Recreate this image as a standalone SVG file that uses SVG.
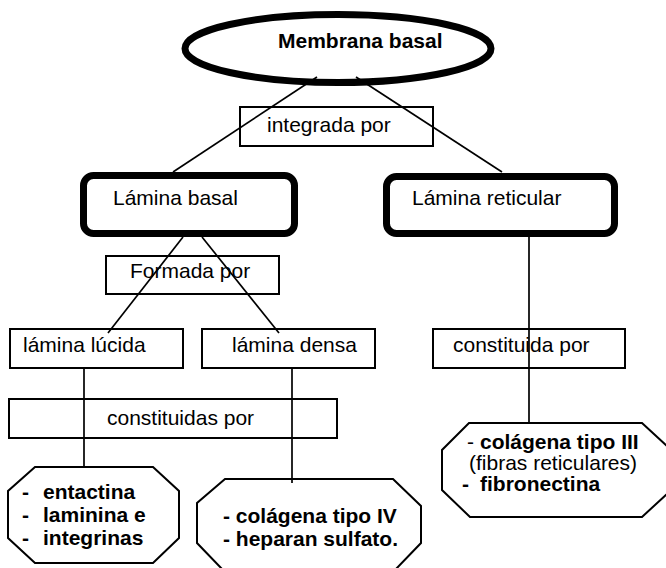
<svg xmlns="http://www.w3.org/2000/svg" width="666" height="568" viewBox="0 0 666 568">
<style>
text{font-family:"Liberation Sans",Arial,sans-serif;font-size:21px;fill:#000}
.b{font-weight:bold}
.box{fill:#fff;stroke:#000;stroke-width:2}
.thick{fill:#fff;stroke:#000;stroke-width:7}
.oct{fill:#fff;stroke:#000;stroke-width:2;stroke-linejoin:miter}
.con line{stroke:#000;stroke-width:1.7}
</style>
<rect width="666" height="568" fill="#fff"/>
<g id="nodes-back">
<g id="membrana"><ellipse class="thick" cx="338" cy="48.5" rx="153" ry="34"/><text class="b" x="278" y="48">Membrana basal</text></g>
<g id="lamina-basal"><rect class="thick" x="83.5" y="175.5" width="211" height="58" rx="10"/><text x="113" y="205">Lámina basal</text></g>
<g id="lamina-reticular"><rect class="thick" x="386.5" y="176.5" width="228" height="57" rx="10"/><text x="412" y="205">Lámina reticular</text></g>
<g id="lucida"><rect class="box" x="10" y="329" width="173" height="39"/><text x="23" y="352">lámina lúcida</text></g>
<g id="densa"><rect class="box" x="202" y="329" width="173" height="39"/><text x="232" y="352">lámina densa</text></g>
<g id="oct-lucida"><polygon class="oct" points="35,467 153,467 179,491 179,538 153,563 35,563 8,538 8,491"/>
<text class="b" x="22" y="499">-</text><text class="b" x="43" y="499">entactina</text>
<text class="b" x="22" y="522">-</text><text class="b" x="43" y="522">laminina e</text>
<text class="b" x="22" y="545">-</text><text class="b" x="43" y="545">integrinas</text></g>
<g id="oct-densa"><polygon class="oct" points="225,479 393,479 421,506 421,543 395,570 223,570 197,543 197,503"/>
<text class="b" x="223" y="523">- colágena tipo IV</text>
<text class="b" x="223" y="546">- heparan sulfato.</text></g>
<g id="oct-reticular"><polygon class="oct" points="469,423 642,423 669,448 669,492 642,517 470,517 442,490 442,450"/>
<text x="467" y="449">- <tspan class="b" x="480">colágena tipo III</tspan></text>
<text x="469" y="470">(fibras reticulares)</text>
<text class="b" x="462" y="491">-</text><text class="b" x="480" y="491">fibronectina</text></g>
</g>
<g id="connectors" class="con">
<line x1="317" y1="77" x2="173" y2="172"/>
<line x1="356" y1="77" x2="502" y2="172"/>
<line x1="183" y1="237" x2="108" y2="333"/>
<line x1="202" y1="237" x2="279" y2="333"/>
<line x1="529" y1="237" x2="529" y2="423"/>
<line x1="84" y1="368" x2="84" y2="466"/>
<line x1="292" y1="368" x2="292" y2="483"/>
</g>
<g id="labels">
<g id="integrada"><rect class="box" x="240" y="107" width="193" height="39" fill="none" style="fill:none"/><text x="267" y="132">integrada por</text></g>
<g id="formada"><rect class="box" x="106" y="256" width="173" height="38" style="fill:none"/><text x="130" y="278">Formada por</text></g>
<g id="constituida"><rect class="box" x="433" y="329" width="192" height="39" style="fill:none"/><text x="453" y="352">constituida por</text></g>
<g id="constituidas"><rect class="box" x="9" y="399" width="328" height="39" style="fill:none"/><text x="107" y="425">constituidas por</text></g>
</g>
</svg>
